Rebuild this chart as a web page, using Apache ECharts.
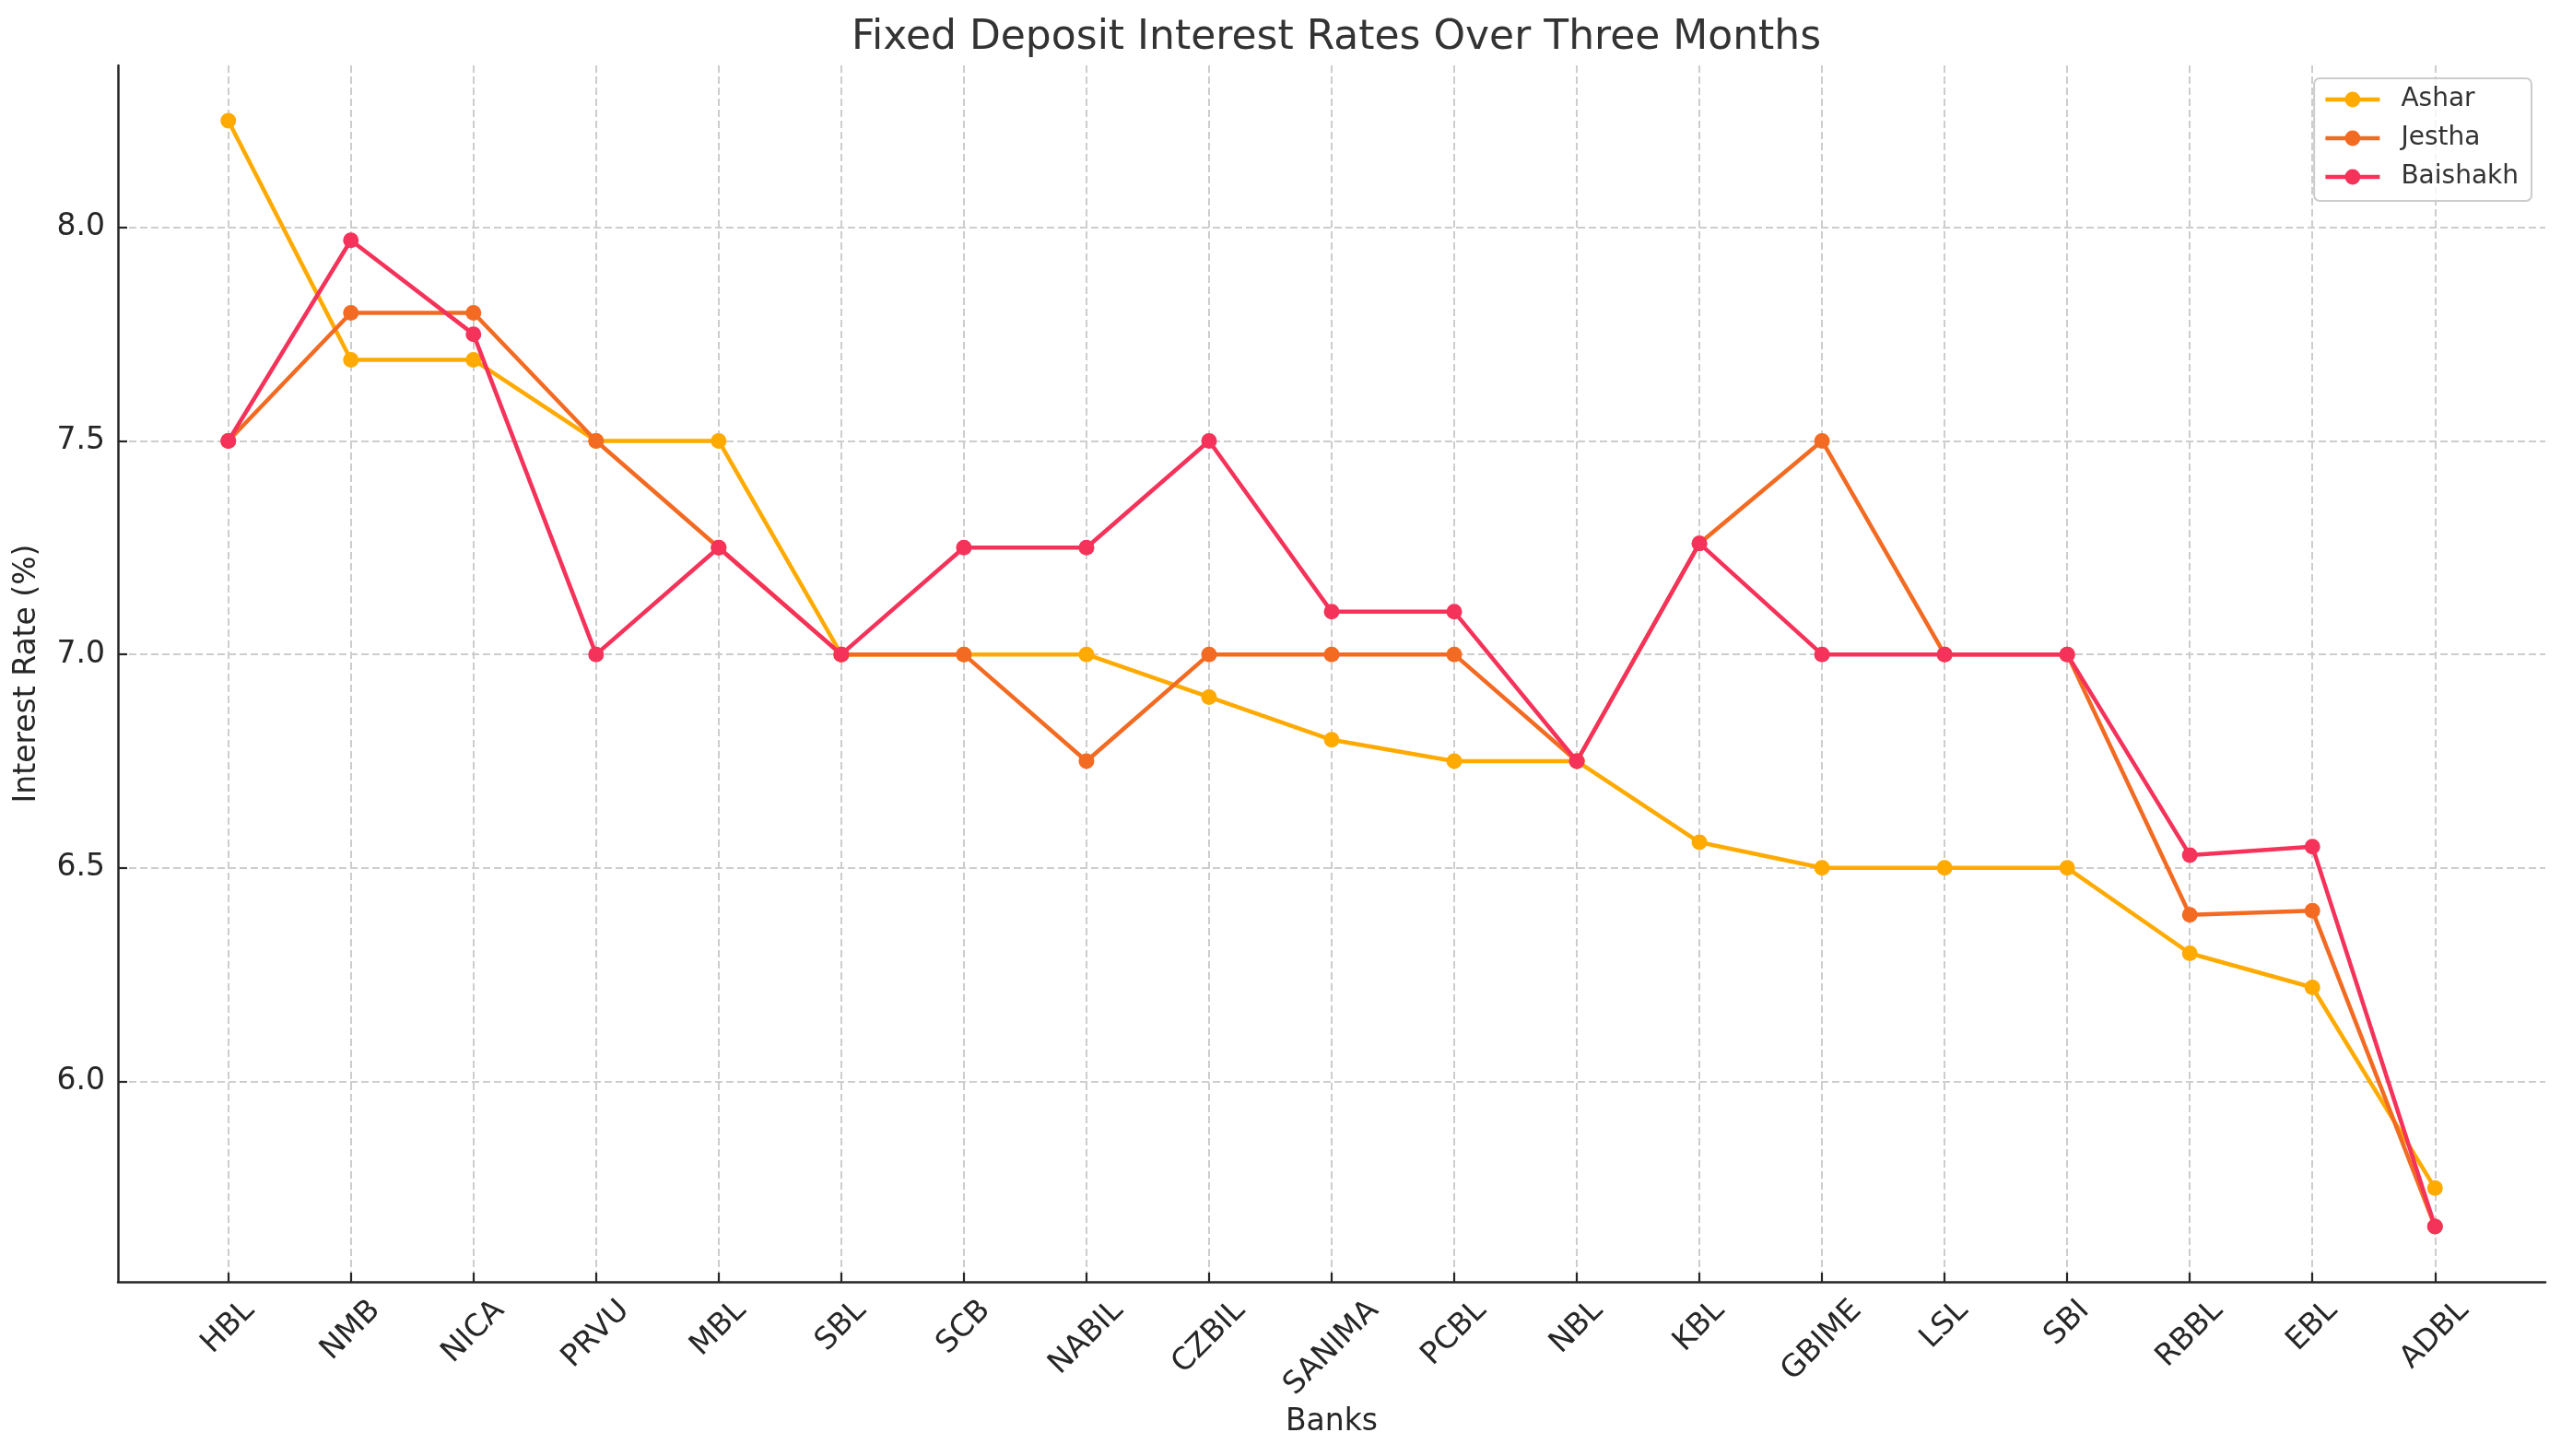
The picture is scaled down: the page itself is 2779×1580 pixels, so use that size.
<!DOCTYPE html>
<html><head><meta charset="utf-8">
<script src="https://cdn.jsdelivr.net/npm/echarts@6/dist/echarts.min.js"></script>
<style>html,body{margin:0;padding:0;background:#fff}#c{width:2779px;height:1580px}</style>
</head><body><div id="c"></div>
<script>
const banks = ['HBL','NMB','NICA','PRVU','MBL','SBL','SCB','NABIL','CZBIL','SANIMA','PCBL','NBL','KBL','GBIME','LSL','SBI','RBBL','EBL','ADBL'];
const ashar    = [8.25, 7.69, 7.69, 7.5, 7.5, 7.0, 7.0, 7.0, 6.9, 6.8, 6.75, 6.75, 6.56, 6.5, 6.5, 6.5, 6.3, 6.22, 5.75];
const jestha   = [7.5, 7.8, 7.8, 7.5, 7.25, 7.0, 7.0, 6.75, 7.0, 7.0, 7.0, 6.75, 7.26, 7.5, 7.0, 7.0, 6.39, 6.4, 5.66];
const baishakh = [7.5, 7.97, 7.75, 7.0, 7.25, 7.0, 7.25, 7.25, 7.5, 7.1, 7.1, 6.75, 7.26, 7.0, 7.0, 7.0, 6.53, 6.55, 5.66];
const yTicks = [6.0, 6.5, 7.0, 7.5, 8.0];
const seriesNames = ['Ashar', 'Jestha', 'Baishakh'];
const seriesColors = ['#FFAA00', '#F36B22', '#F5325A'];

const FONT = 'DejaVu Sans';
const TICK_FS = 33;
const all = ashar.concat(jestha, baishakh);
const dMin = Math.min(...all), dMax = Math.max(...all);
const yPad = 0.05 * (dMax - dMin);
const xPad = 0.05 * (banks.length - 1);

// per-label padding so rotated labels hang like matplotlib (center-aligned rotated bbox)
const ctx = document.createElement('canvas').getContext('2d');
ctx.font = TICK_FS + 'px "' + FONT + '"';
const rich = {};
banks.forEach((b, i) => {
  const w = ctx.measureText(b).width;
  rich['l' + i] = { padding: [w / 2, w / 2, 0, 0], fontSize: TICK_FS, fontFamily: FONT, color: '#262626' };
});

const gridLine = { show: true, lineStyle: { color: '#cdcdcd', width: 2, type: [8, 4] } };
const axisLineStyle = { show: true, onZero: false, lineStyle: { color: '#262626', width: 2.5 } };

const chart = echarts.init(document.getElementById('c'), null, { renderer: 'canvas' });
chart.setOption({
  backgroundColor: '#ffffff',
  animation: false,
  title: {
    text: 'Fixed Deposit Interest Rates Over Three Months',
    left: 1445, top: 15, textAlign: 'center',
    textStyle: { fontFamily: FONT, fontSize: 44, fontWeight: 'normal', color: '#333333' }
  },
  legend: {
    orient: 'vertical', right: 32, top: 85,
    padding: [9, 14, 12, 10], itemGap: 14, itemWidth: 59, itemHeight: 21,
    borderColor: '#cccccc', borderWidth: 2, borderRadius: 6,
    backgroundColor: 'rgba(255,255,255,0.8)',
    lineStyle: { width: 4.5 },
    textStyle: { fontFamily: FONT, fontSize: 28, color: '#333333', padding: [0, 0, 0, 18] },
    data: seriesNames
  },
  grid: { left: 128, right: 17, top: 71, bottom: 189, containLabel: false },
  xAxis: {
    type: 'value', min: -xPad, max: banks.length - 1 + xPad,
    name: 'Banks', nameLocation: 'middle', nameGap: 136,
    nameTextStyle: { fontFamily: FONT, fontSize: 33, color: '#262626' },
    axisLine: axisLineStyle,
    axisTick: { show: true, inside: true, length: 10, customValues: banks.map((b, i) => i), lineStyle: { color: '#262626', width: 2.2 } },
    axisLabel: {
      customValues: banks.map((b, i) => i),
      rotate: 45, align: 'center', verticalAlign: 'middle', margin: 26,
      fontFamily: FONT, fontSize: TICK_FS, color: '#262626',
      formatter: v => '{l' + Math.round(v) + '|' + banks[Math.round(v)] + '}',
      rich: rich
    },
    splitLine: gridLine
  },
  yAxis: {
    type: 'value', min: dMin - yPad, max: dMax + yPad,
    name: 'Interest Rate (%)', nameLocation: 'middle', nameGap: 82, nameRotate: 90,
    nameTextStyle: { fontFamily: FONT, fontSize: 33, color: '#262626' },
    axisLine: axisLineStyle,
    axisTick: { show: true, inside: true, length: 10, customValues: yTicks, lineStyle: { color: '#262626', width: 2.2 } },
    axisLabel: {
      customValues: yTicks, margin: 14,
      fontFamily: FONT, fontSize: TICK_FS, color: '#262626',
      formatter: v => Number(v).toFixed(1)
    },
    splitLine: gridLine
  },
  series: [ashar, jestha, baishakh].map((arr, k) => ({
    name: seriesNames[k], type: 'line',
    data: arr.map((v, i) => [i, v]),
    symbol: 'circle', symbolSize: 17,
    lineStyle: { color: seriesColors[k], width: 4.5 },
    itemStyle: { color: seriesColors[k] },
    z: 2 + k
  }))
});
</script>
</body></html>
